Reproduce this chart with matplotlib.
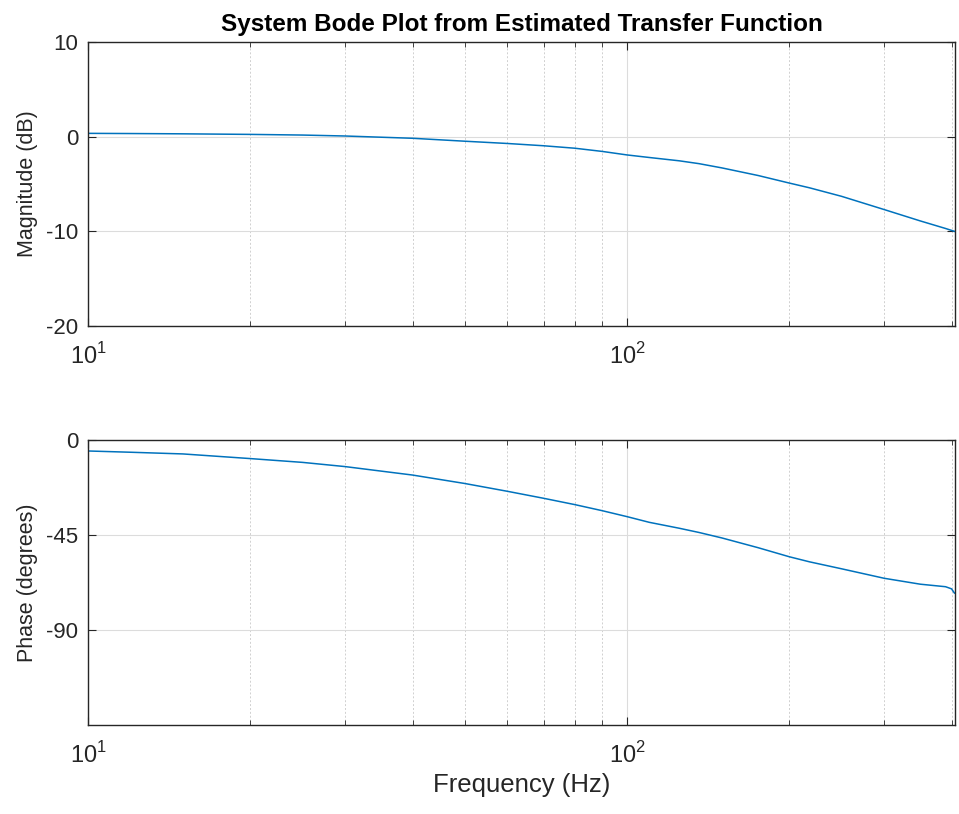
import numpy as np
import matplotlib
matplotlib.use("Agg")
import matplotlib.pyplot as plt
from matplotlib.ticker import LogLocator, NullFormatter, FixedLocator

plt.rcParams['font.family'] = ['Liberation Sans', 'DejaVu Sans']
plt.rcParams['mathtext.fontset'] = 'custom'
plt.rcParams['mathtext.rm'] = 'Liberation Sans'
plt.rcParams['axes.unicode_minus'] = False

freq_hz = [10, 12, 15, 20, 25, 30, 40, 50, 60, 70, 80, 90, 100, 110, 125,
           136, 150, 175, 200, 218, 250, 300, 350, 390, 400, 405]
magnitude_db = [0.35, 0.33, 0.30, 0.24, 0.17, 0.07, -0.17, -0.48, -0.72, -0.96,
                -1.22, -1.56, -1.93, -2.20, -2.55, -2.85, -3.30, -4.10, -4.90,
                -5.40, -6.30, -7.70, -8.90, -9.70, -9.90, -10.00]
phase_deg = [-5.2, -5.8, -6.6, -8.8, -10.6, -12.6, -16.6, -20.6, -24.3, -27.6,
             -30.6, -33.5, -36.3, -39.0, -41.8, -43.8, -46.4, -51.0, -55.3,
             -57.7, -61.0, -65.5, -68.3, -69.5, -70.5, -72.5]

mag_yticks = [-20, -10, 0, 10]
phase_yticks = [-90, -45, 0]
line_color = '#0072BD'

fig = plt.figure(figsize=(9.59, 8.14), dpi=100)
W, H = 959, 814
ax1 = fig.add_axes([88 / W, 1 - 326 / H, 867 / W, 284 / H])
ax2 = fig.add_axes([88 / W, 1 - 725 / H, 867 / W, 285 / H])

def style(ax):
    ax.set_xscale('log')
    ax.set_xlim(10, 406)
    ax.xaxis.set_major_locator(FixedLocator([10, 100]))
    ax.set_xticklabels([r'$10^1$', r'$10^2$'])
    ax.xaxis.set_minor_locator(LogLocator(base=10, subs=np.arange(2, 10)))
    ax.xaxis.set_minor_formatter(NullFormatter())
    ax.tick_params(which='both', direction='in', top=True, right=True,
                   colors='#262626', labelcolor='#262626')
    ax.tick_params(axis='x', labelsize=17, pad=12)
    ax.tick_params(axis='y', labelsize=16, pad=7)
    ax.tick_params(which='major', length=6, width=0.8)
    ax.tick_params(which='minor', length=3.5, width=0.6)
    ax.grid(True, which='major', color='#dcdcdc', linestyle='-', linewidth=0.8)
    ax.grid(True, which='minor', axis='x', color='#d0d0d0', linestyle=(0, (2, 2)), linewidth=0.7)
    for s in ax.spines.values():
        s.set_color('#262626')
        s.set_linewidth(1.0)
    ax.set_axisbelow(True)

style(ax1)
style(ax2)

ax1.plot(freq_hz, magnitude_db, color=line_color, linewidth=1.1)
ax1.set_ylim(-20, 10)
ax1.set_yticks(mag_yticks)
ax1.set_ylabel('Magnitude (dB)', fontsize=15.5, color='#262626', labelpad=6)
ax1.set_title('System Bode Plot from Estimated Transfer Function',
              fontsize=17.5, fontweight='bold', color='#000000', pad=8)

ax2.plot(freq_hz, phase_deg, color=line_color, linewidth=1.1)
ax2.set_ylim(-135, 0)
ax2.set_yticks(phase_yticks)
ax2.set_ylabel('Phase (degrees)', fontsize=15.5, color='#262626', labelpad=6)
ax2.set_xlabel('Frequency (Hz)', fontsize=18.5, color='#262626', labelpad=4)

fig.savefig('out.png', dpi=100, facecolor='white')
